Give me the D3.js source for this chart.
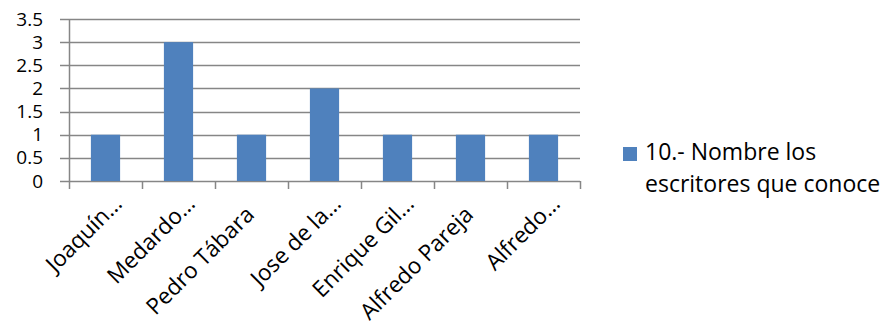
<!DOCTYPE html>
<html>
<head>
<meta charset="utf-8">
<script src="https://cdn.jsdelivr.net/npm/d3@7"></script>
<style>
body { margin: 0; background: #fff; }
text { font-family: "Open Sans", sans-serif; fill: #000; }
</style>
</head>
<body>
<div class="chart"></div>
<script>
var w = 884;
var h = 326;
var margin = {top: 19, right: 304, bottom: 145, left: 69};

var escritores = ["Joaquín…", "Medardo…", "Pedro Tábara", "Jose de la…", "Enrique Gil…", "Alfredo Pareja", "Alfredo…"];
var cantidad = [1, 3, 1, 2, 1, 1, 1];
var yTicks = [0, 0.5, 1, 1.5, 2, 2.5, 3, 3.5];
var serie = ["10.- Nombre los", "escritores que conoce"];

var color = "#4f81bd";
var gris = "#868686";

var svg = d3.select(".chart")
            .append("svg")
            .attr("width", w)
            .attr("height", h);

var pw = w - margin.left - margin.right;
var ph = h - margin.top - margin.bottom;

var xScale = d3.scaleBand()
    .domain(escritores)
    .range([0, pw])
    .paddingInner(0.6)
    .paddingOuter(0.3);

var yScale = d3.scaleLinear()
    .domain([0, 3.5])
    .range([ph, 0]);

var g = svg.append("g")
   .attr("transform", "translate(" + margin.left + "," + margin.top + ")");

// gridlines
g.selectAll(".grid")
  .data(yTicks)
  .enter()
  .append("line")
  .attr("x1", -9)
  .attr("x2", pw)
  .attr("y1", (d) => Math.round(yScale(d)) + 0.5)
  .attr("y2", (d) => Math.round(yScale(d)) + 0.5)
  .attr("stroke", gris)
  .attr("stroke-width", 1.5);

// y labels
g.selectAll(".yLabel")
  .data(yTicks)
  .enter()
  .append("text")
  .text((d) => d)
  .attr("x", -26)
  .attr("y", (d) => yScale(d) + 6.5)
  .attr("text-anchor", "end")
  .style("font-size", "19px");

// y axis line
g.append("line")
  .attr("x1", 0.5).attr("x2", 0.5)
  .attr("y1", 0).attr("y2", ph)
  .attr("stroke", gris)
  .attr("stroke-width", 1.5);

// x ticks at category boundaries
var step = pw / escritores.length;
g.selectAll(".xTick")
  .data(d3.range(escritores.length + 1))
  .enter()
  .append("line")
  .attr("x1", (d) => Math.round(d * step) + 0.5)
  .attr("x2", (d) => Math.round(d * step) + 0.5)
  .attr("y1", ph)
  .attr("y2", ph + 8)
  .attr("stroke", gris)
  .attr("stroke-width", 1.5);

// bars
g.selectAll("rect.bar")
  .data(cantidad)
  .enter()
  .append("rect")
  .attr("class", "bar")
  .attr("x", (d, i) => xScale(escritores[i]))
  .attr("y", (d) => yScale(d))
  .attr("width", xScale.bandwidth())
  .attr("height", (d) => ph - yScale(d))
  .attr("fill", color);

// x labels (truncated ones sit a bit higher, like in excel)
g.selectAll(".xLabel")
  .data(escritores)
  .enter()
  .append("text")
  .text((d) => d)
  .attr("text-anchor", "end")
  .attr("transform", function (d) {
    var cx = xScale(d) + xScale.bandwidth() / 2;
    var corto = d.slice(-1) === "…";
    return "translate(" + (cx + (corto ? 18 : 4)) + "," + (ph + (corto ? 24 : 35)) + ") rotate(-45)";
  })
  .style("font-size", "22.5px");

// legend
var lg = svg.append("g").attr("transform", "translate(623,147)");
lg.append("rect")
  .attr("width", 14)
  .attr("height", 14)
  .attr("fill", color);
lg.selectAll("text")
  .data(serie)
  .enter()
  .append("text")
  .text((d) => d)
  .attr("x", 22)
  .attr("y", (d, i) => 13 + i * 32)
  .style("font-size", "23px");
</script>
</body>
</html>
